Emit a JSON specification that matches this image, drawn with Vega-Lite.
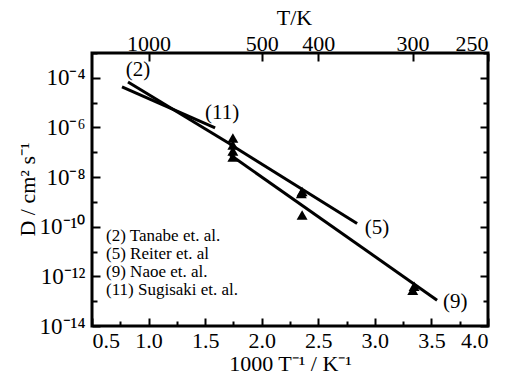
{
  "$schema": "https://vega.github.io/schema/vega-lite/v6.json",
  "width": 396,
  "height": 273,
  "autosize": {"type": "none"},
  "padding": {"left": 92, "top": 53, "right": 27, "bottom": 58},
  "background": "white",
  "config": {
    "view": {"stroke": "black", "strokeWidth": 3},
    "font": "Liberation Serif",
    "axis": {
      "domain": false,
      "grid": false,
      "labelFont": "Liberation Serif",
      "titleFont": "Liberation Serif",
      "labelColor": "black",
      "titleColor": "black",
      "tickColor": "black",
      "tickWidth": 2,
      "labelFontSize": 22,
      "titleFontSize": 22,
      "titleFontWeight": "normal",
      "titleBaseline": "middle",
      "titleAlign": "center"
    }
  },
  "datasets": {
    "lines": [
      {"ref": "11", "x": 0.765, "D": 4.27e-5},
      {"ref": "11", "x": 1.588, "D": 9.55e-7},
      {"ref": "2", "x": 0.818, "D": 6.76e-5},
      {"ref": "2", "x": 1.75, "D": 1.78e-7},
      {"ref": "5", "x": 1.72, "D": 2.09e-7},
      {"ref": "5", "x": 2.843, "D": 1.35e-10},
      {"ref": "9", "x": 1.72, "D": 7.94e-8},
      {"ref": "9", "x": 3.55, "D": 1.10e-13}
    ],
    "points": [
      {"x": 1.745, "D": 3.72e-7},
      {"x": 1.745, "D": 1.95e-7},
      {"x": 1.745, "D": 1.12e-7},
      {"x": 1.745, "D": 6.46e-8},
      {"x": 2.357, "D": 2.63e-9},
      {"x": 2.35, "D": 2.19e-9},
      {"x": 2.357, "D": 2.95e-10},
      {"x": 3.347, "D": 3.98e-13},
      {"x": 3.335, "D": 2.75e-13}
    ],
    "labels": [
      {"text": "(2)", "x": 0.907, "D": 2.04e-4},
      {"text": "(11)", "x": 1.65, "D": 3.8e-6},
      {"text": "(5)", "x": 3.02, "D": 8.71e-11},
      {"text": "(9)", "x": 3.71, "D": 8.91e-14}
    ],
    "legend": [
      {"text": "(2) Tanabe et. al.", "x": 0.624, "D": 4.17e-11},
      {"text": "(5) Reiter et. al", "x": 0.624, "D": 7.94e-12},
      {"text": "(9) Naoe et. al.", "x": 0.624, "D": 1.48e-12},
      {"text": "(11) Sugisaki et. al.", "x": 0.624, "D": 2.75e-13}
    ]
  },
  "layer": [
    {
      "data": {"name": "lines"},
      "mark": {"type": "line", "color": "black", "strokeWidth": 3},
      "encoding": {
        "x": {
          "field": "x", "type": "quantitative",
          "scale": {"domain": [0.5, 4], "nice": false, "zero": false},
          "axis": {
            "orient": "bottom",
            "values": [0.5, 0.75, 1, 1.25, 1.5, 1.75, 2, 2.25, 2.5, 2.75, 3, 3.25, 3.5, 3.75, 4],
            "labelExpr": "(datum.value * 2) % 1 == 0 ? format(datum.value, '.1f') : ''",
            "tickSize": {"condition": {"test": "(datum.value * 2) % 1 == 0", "value": -8}, "value": -5},
            "labelPadding": 12,
            "title": "1000 T⁻¹ / K⁻¹",
            "titleX": 198,
            "titleY": 37
          }
        },
        "y": {
          "field": "D", "type": "quantitative",
          "scale": {"type": "log", "domain": [1e-14, 1e-3], "nice": false},
          "axis": {
            "orient": "left",
            "values": [1e-14, 1e-13, 1e-12, 1e-11, 1e-10, 1e-9, 1e-8, 1e-7, 1e-6, 1e-5, 1e-4, 1e-3],
            "labelExpr": "round(log(datum.value)/LN10) == -4 ? '10⁻⁴' : round(log(datum.value)/LN10) == -6 ? '10⁻⁶' : round(log(datum.value)/LN10) == -8 ? '10⁻⁸' : round(log(datum.value)/LN10) == -10 ? '10⁻¹⁰' : round(log(datum.value)/LN10) == -12 ? '10⁻¹²' : round(log(datum.value)/LN10) == -14 ? '10⁻¹⁴' : ''",
            "tickSize": {"condition": {"test": "round(log(datum.value)/LN10) % 2 == 0", "value": -8}, "value": -5},
            "labelPadding": 15,
            "labelFontSize": 23,
            "title": "D / cm² s⁻¹",
            "titleX": -65,
            "titleY": 136
          }
        },
        "detail": {"field": "ref"}
      }
    },
    {
      "data": {"name": "points"},
      "mark": {"type": "point", "shape": "triangle-up", "filled": true, "color": "black", "size": 120, "opacity": 1},
      "encoding": {
        "x": {
          "field": "x", "type": "quantitative",
          "axis": {
            "orient": "top",
            "values": [1, 2, 2.5, 3.3333333, 4],
            "labelExpr": "format(1000 / datum.value, '.0f')",
            "tickSize": -8,
            "labelPadding": 6,
            "title": "T/K",
            "titleX": 202,
            "titleY": -36
          }
        },
        "y": {
          "field": "D", "type": "quantitative",
          "axis": {
            "orient": "right",
            "values": [1e-14, 1e-13, 1e-12, 1e-11, 1e-10, 1e-9, 1e-8, 1e-7, 1e-6, 1e-5, 1e-4, 1e-3],
            "labels": false,
            "tickSize": {"condition": {"test": "round(log(datum.value)/LN10) % 2 == 0", "value": -8}, "value": -5},
            "title": null
          }
        }
      }
    },
    {
      "data": {"name": "labels"},
      "mark": {"type": "text", "fontSize": 21, "color": "black", "font": "Liberation Serif"},
      "encoding": {
        "x": {"field": "x", "type": "quantitative", "axis": null},
        "y": {"field": "D", "type": "quantitative", "axis": null},
        "text": {"field": "text"}
      }
    },
    {
      "data": {"name": "legend"},
      "mark": {"type": "text", "fontSize": 17, "color": "black", "align": "left", "font": "Liberation Serif"},
      "encoding": {
        "x": {"field": "x", "type": "quantitative", "axis": null},
        "y": {"field": "D", "type": "quantitative", "axis": null},
        "text": {"field": "text"}
      }
    }
  ],
  "resolve": {"axis": {"x": "independent", "y": "independent"}}
}
